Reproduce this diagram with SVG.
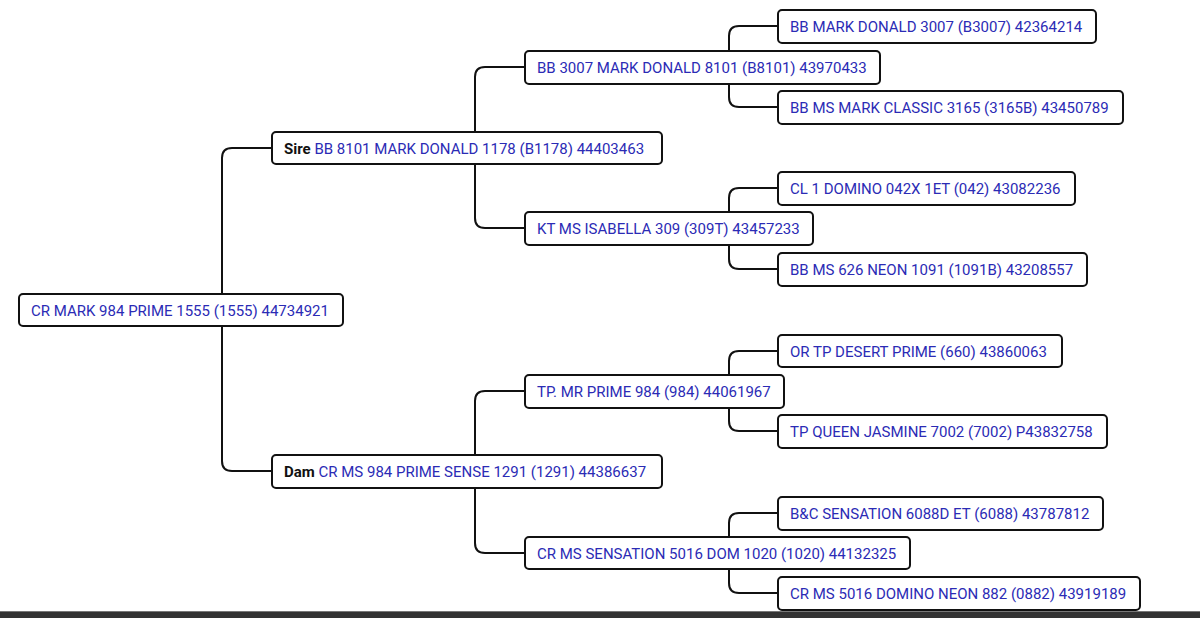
<svg xmlns="http://www.w3.org/2000/svg" width="1200" height="618" viewBox="0 0 1200 618">
<style>
.b{fill:#fff;stroke:#111;stroke-width:2}
.t{font-family:Roboto,"Liberation Sans",sans-serif;font-size:15px;fill:#2b2bb5}
.k{fill:#111;font-weight:bold}
.c{fill:none;stroke:#111;stroke-width:2}
</style>
<rect width="1200" height="618" fill="#fff"/>
<g id="connectors">
<path class="c" d="M272,148 H232 Q222,148 222,158 V461 Q222,471 232,471 H272"/>
<path class="c" d="M525,67 H485 Q475,67 475,77 V218 Q475,228 485,228 H525"/>
<path class="c" d="M525,391 H485 Q475,391 475,401 V543 Q475,553 485,553 H525"/>
<path class="c" d="M778,26 H739 Q729,26 729,36 V97 Q729,107 739,107 H778"/>
<path class="c" d="M778,188 H739 Q729,188 729,198 V259 Q729,269 739,269 H778"/>
<path class="c" d="M778,351 H739 Q729,351 729,361 V421 Q729,431 739,431 H778"/>
<path class="c" d="M778,513 H739 Q729,513 729,523 V583 Q729,593 739,593 H778"/>
</g>
<g id="root"><rect class="b" x="19" y="294" width="324" height="32" rx="4"/><text class="t" x="31" y="315.5">CR MARK 984 PRIME 1555 (1555) 44734921</text></g>
<g id="sire"><rect class="b" x="272" y="132" width="390" height="32" rx="4"/><text class="t" x="284" y="153.5"><tspan class="k">Sire</tspan> BB 8101 MARK DONALD 1178 (B1178) 44403463</text></g>
<g id="dam"><rect class="b" x="272" y="455" width="390" height="33" rx="4"/><text class="t" x="284" y="477"><tspan class="k">Dam</tspan> CR MS 984 PRIME SENSE 1291 (1291) 44386637</text></g>
<g id="ss"><rect class="b" x="525" y="51" width="355" height="33" rx="4"/><text class="t" x="537" y="73">BB 3007 MARK DONALD 8101 (B8101) 43970433</text></g>
<g id="sd"><rect class="b" x="525" y="212" width="288" height="33" rx="4"/><text class="t" x="537" y="234">KT MS ISABELLA 309 (309T) 43457233</text></g>
<g id="ds"><rect class="b" x="525" y="375" width="259" height="33" rx="4"/><text class="t" x="537" y="397">TP. MR PRIME 984 (984) 44061967</text></g>
<g id="dd"><rect class="b" x="525" y="537" width="385" height="32" rx="4"/><text class="t" x="537" y="558.5">CR MS SENSATION 5016 DOM 1020 (1020) 44132325</text></g>
<g id="sss"><rect class="b" x="778" y="10" width="318" height="33" rx="4"/><text class="t" x="790" y="32">BB MARK DONALD 3007 (B3007) 42364214</text></g>
<g id="ssd"><rect class="b" x="778" y="91" width="345" height="33" rx="4"/><text class="t" x="790" y="113">BB MS MARK CLASSIC 3165 (3165B) 43450789</text></g>
<g id="sds"><rect class="b" x="778" y="172" width="297" height="33" rx="4"/><text class="t" x="790" y="194">CL 1 DOMINO 042X 1ET (042) 43082236</text></g>
<g id="sdd"><rect class="b" x="778" y="253" width="309" height="33" rx="4"/><text class="t" x="790" y="275">BB MS 626 NEON 1091 (1091B) 43208557</text></g>
<g id="dss"><rect class="b" x="778" y="335" width="284" height="32" rx="4"/><text class="t" x="790" y="356.5">OR TP DESERT PRIME (660) 43860063</text></g>
<g id="dsd"><rect class="b" x="778" y="415" width="329" height="33" rx="4"/><text class="t" x="790" y="437">TP QUEEN JASMINE 7002 (7002) P43832758</text></g>
<g id="dds"><rect class="b" x="778" y="497" width="325" height="33" rx="4"/><text class="t" x="790" y="519">B&amp;C SENSATION 6088D ET (6088) 43787812</text></g>
<g id="ddd"><rect class="b" x="778" y="577" width="362" height="33" rx="4"/><text class="t" x="790" y="599">CR MS 5016 DOMINO NEON 882 (0882) 43919189</text></g>
<rect x="0" y="611" width="1200" height="7" fill="#333"/>
<rect x="0" y="611" width="1200" height="1" fill="#777"/>
</svg>
